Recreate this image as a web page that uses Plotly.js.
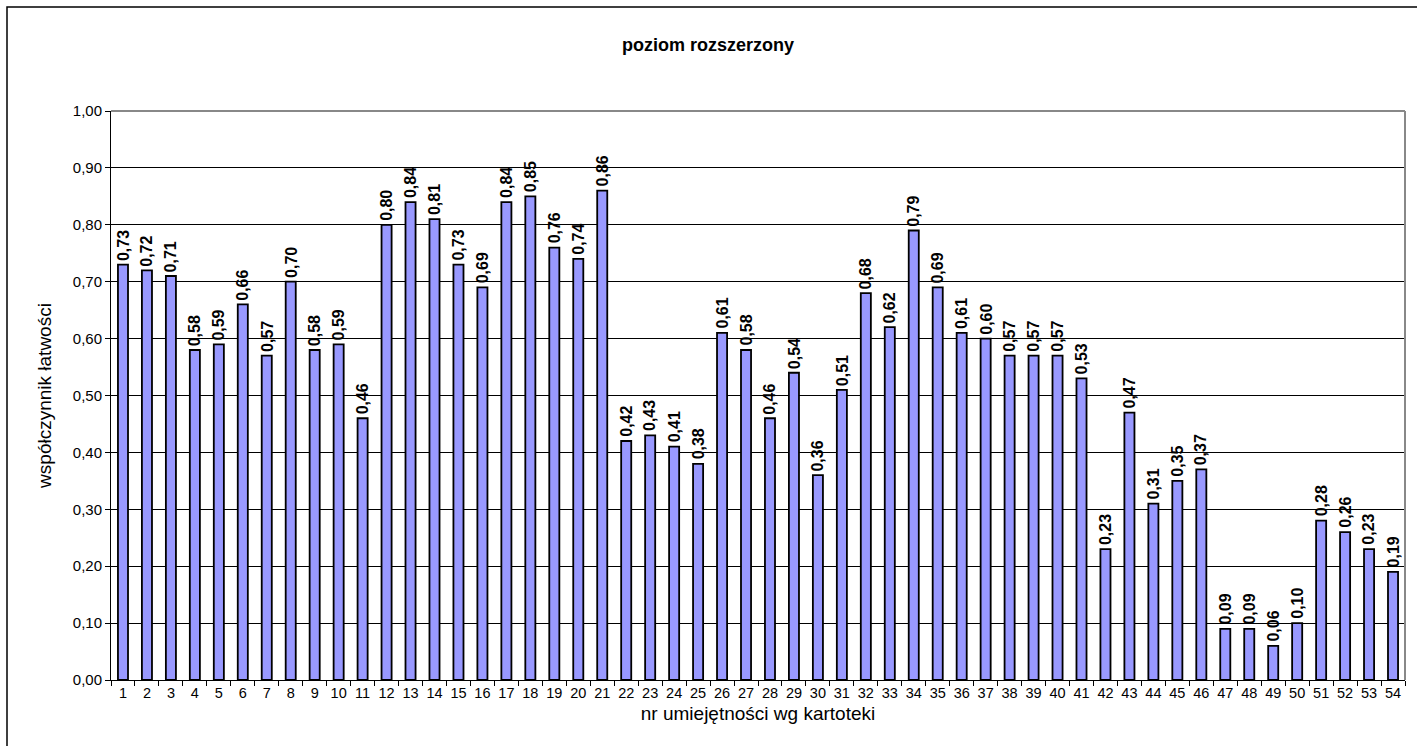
<!DOCTYPE html>
<html><head><meta charset="utf-8">
<script src="https://cdn.plot.ly/plotly-3.0.1.min.js"></script>
<style>body{margin:0;background:#fff}#c{width:1417px;height:746px}</style>
</head><body><div id="c"></div>
<script>
const categories = Array.from({length:54},(_,i)=>String(i+1));
const values = [0.73,0.72,0.71,0.58,0.59,0.66,0.57,0.70,0.58,0.59,0.46,0.80,0.84,0.81,0.73,0.69,0.84,0.85,0.76,0.74,0.86,0.42,0.43,0.41,0.38,0.61,0.58,0.46,0.54,0.36,0.51,0.68,0.62,0.79,0.69,0.61,0.60,0.57,0.57,0.57,0.53,0.23,0.47,0.31,0.35,0.37,0.09,0.09,0.06,0.10,0.28,0.26,0.23,0.19];
const yTicks = [0,0.1,0.2,0.3,0.4,0.5,0.6,0.7,0.8,0.9,1.0];
const labels = values.map(v=>v.toFixed(2).replace('.',','));
const fontFam = 'Liberation Sans, Arial, sans-serif';

const trace = {
  type:'bar', x:categories, y:values,
  marker:{color:'#9999ff', line:{color:'#000', width:1.8}},
  width:0.42, hoverinfo:'none'
};
const annotations = categories.map((c,i)=>({
  x:i, y:values[i], xref:'x', yref:'y', text:'<b>'+labels[i]+'</b>',
  showarrow:false, textangle:-90, xanchor:'center', yanchor:'bottom', yshift:2,
  font:{family:fontFam, size:16, color:'#000'}
}));
const layout = {
  width:1417, height:746,
  margin:{l:111, r:12, t:111, b:66},
  paper_bgcolor:'#fff', plot_bgcolor:'#fff',
  separators:',.',
  showlegend:false,
  title:{text:'<b>poziom rozszerzony</b>', font:{family:fontFam, size:18, color:'#000'}, x:708/1417, xref:'container', xanchor:'center', y:1-45/746, yref:'container', yanchor:'middle'},
  xaxis:{type:'category', tickson:'boundaries', ticks:'outside', ticklen:5, tickcolor:'#000', tickangle:0,
    showline:true, linecolor:'#000', linewidth:1, showgrid:false,
    tickfont:{family:fontFam, size:14.5, color:'#000'},
    title:{text:'nr umiejętności wg kartoteki', font:{family:fontFam, size:19, color:'#000'}, standoff:6}},
  yaxis:{range:[0,1], tickvals:yTicks, tickformat:'.2f', ticks:'outside', ticklen:5, tickcolor:'#000',
    showline:true, linecolor:'#000', linewidth:1, showgrid:true, gridcolor:'#000', gridwidth:1,
    zeroline:false, tickfont:{family:fontFam, size:15, color:'#000'},
    title:{text:'współczynnik łatwości', font:{family:fontFam, size:19, color:'#000'}, standoff:16}},
  annotations: annotations,
  shapes:[
    {type:'line', xref:'paper', yref:'paper', x0:0, x1:1, y0:1, y1:1, line:{color:'#888', width:2}},
    {type:'line', xref:'paper', yref:'paper', x0:1, x1:1, y0:0, y1:1, line:{color:'#888', width:2}},
    {type:'rect', xref:'paper', yref:'paper', x0:(7-111)/1294, x1:1.03, y0:(680-7)/569, y1:-0.2, line:{color:'#000', width:1.5}, fillcolor:'rgba(0,0,0,0)', layer:'below'}
  ]
};
Plotly.newPlot('c',[trace],layout,{staticPlot:true});
</script></body></html>
